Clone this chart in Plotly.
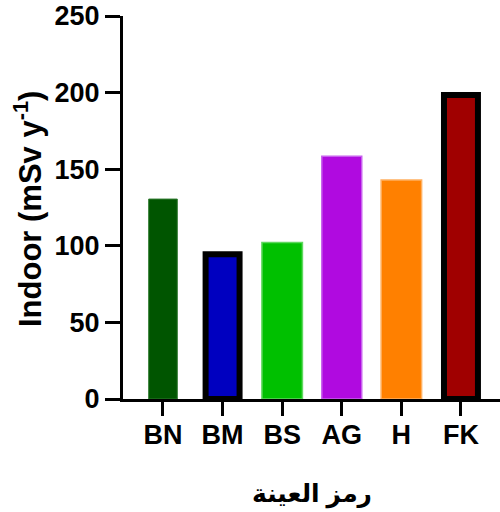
import plotly.graph_objects as go

categories = ["BN", "BM", "BS", "AG", "H", "FK"]
values = [130.5, 94.5, 102.2, 158.4, 143.0, 198.5]
fill_colors = ["#005500", "#0000C0", "#00C000", "#B00AE0", "#FF8000", "#A00000"]
line_colors = ["#2E7A2E", "#000000", "#5FD85F", "#C860EE", "#FFB060", "#000000"]
line_widths = [1, 6, 1.5, 1.5, 1.5, 6]
bar_widths = [0.48, 0.57, 0.68, 0.67, 0.68, 0.57]
y_ticks = [0, 50, 100, 150, 200, 250]

FONT = "Liberation Sans, Arial, DejaVu Sans, sans-serif"

fig = go.Figure(
    go.Bar(
        x=categories,
        y=values,
        width=bar_widths,
        marker=dict(color=fill_colors, line=dict(color=line_colors, width=line_widths)),
    )
)

fig.update_layout(
    width=500,
    height=512,
    margin=dict(l=123, r=0, t=16, b=113),
    paper_bgcolor="white",
    plot_bgcolor="white",
    showlegend=False,
    font=dict(family=FONT, color="black"),
)

fig.update_xaxes(
    range=[-0.671, 5.655],
    showline=True,
    linecolor="black",
    linewidth=3,
    ticks="outside",
    ticklen=14,
    tickwidth=3,
    tickcolor="black",
    ticklabelstandoff=-4,
    tickfont=dict(size=27, family=FONT, weight="bold"),
    showgrid=False,
    zeroline=False,
)

fig.update_yaxes(
    range=[0, 250],
    tickvals=y_ticks,
    showline=True,
    linecolor="black",
    linewidth=3,
    ticks="outside",
    ticklen=15,
    tickwidth=3,
    tickcolor="black",
    tickfont=dict(size=27, family=FONT, weight="bold"),
    showgrid=False,
    zeroline=False,
)

fig.add_annotation(
    text="<b>Indoor (mSv y<sup>-1</sup>)</b>",
    xref="paper", yref="paper",
    x=(28 - 123) / 377, y=(399 - 209) / 383,
    xanchor="center", yanchor="middle",
    textangle=-90,
    showarrow=False,
    font=dict(size=31, family=FONT, color="black"),
)

fig.add_annotation(
    text="<b>رمز العينة</b>",
    xref="paper", yref="paper",
    x=(312 - 123) / 377, y=(399 - 494) / 383,
    xanchor="center", yanchor="middle",
    showarrow=False,
    font=dict(size=25, family=FONT, color="black"),
)

fig.write_html("out.html")
